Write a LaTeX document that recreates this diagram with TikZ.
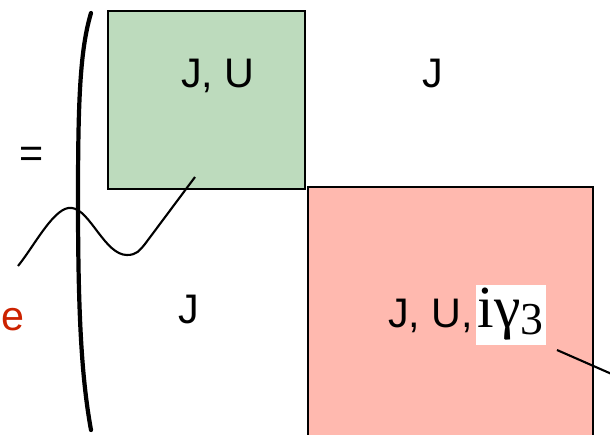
\documentclass[tikz,border=0pt]{standalone}
\usepackage{fontspec}
\setmainfont{Liberation Sans}
\newfontfamily\serifgr{Liberation Serif}
\usetikzlibrary{positioning}
\definecolor{cgreen}{HTML}{BDDBBD}
\definecolor{cpink}{HTML}{FFB9AF}
\definecolor{cred}{HTML}{CC2200}
\tikzset{
  every picture/.style={line width=1pt},
  block/.style={draw=black, fill=#1, line width=1.1pt, anchor=north west, inner sep=0pt},
  lbl/.style={font=\fontsize{23.5}{28}\selectfont, inner sep=0pt},
  gamma/.style={fill=white, font=\serifgr\fontsize{34}{40}\selectfont, text height=0.76cm, text depth=0.28cm, inner xsep=0.04cm, inner ysep=0.08cm},
  brace/.style={line width=2.4pt, line cap=round},
  wave/.style={line width=1.2pt},
}
\begin{document}
\begin{tikzpicture}[x=0.02cm, y=-0.02cm]
  \clip (0,0) rectangle (610,434);
  % the two diagonal blocks
  \node[block=cgreen, minimum width=3.94cm, minimum height=3.56cm] (upper) at (107,10) {};
  \node[block=cpink, minimum width=5.7cm, minimum height=5.4cm] (lower) at (307,186) {};
  % entries
  \node[lbl, anchor=base] (ju) at (218,87) {J, U};
  \node[lbl, anchor=base] (jright) at (433,87) {J};
  \node[lbl, anchor=base] (jleft) at (189,323) {J};
  \node[lbl, anchor=base east] (juc) at (474,327) {J, U,};
  \node[gamma, anchor=base west] (ig) at (475,327) {iγ\raisebox{-0.12em}{\fontsize{26}{30}\selectfont 3}};
  \node[lbl] (eq) at (32,157) {=};
  \node[lbl, anchor=base, text=cred] (e) at (13,330) {e};
  % bracket and the two lines
  \coordinate (wavestart) at (18,266);
  \coordinate (waveend) at (195,177);
  \coordinate (tail) at (557,350);
  \coordinate (tailend) at (614,375);
  \draw[brace] (91,13) .. controls (80,50) and (78,100) .. (78,200) .. controls (78,320) and (82,380) .. (91,430);
  \draw[wave] (wavestart) .. controls (35,245) and (55,205) .. (72,208) .. controls (90,210) and (105,255) .. (127,255) .. controls (137,255) and (140,250) .. (145,244) -- (waveend);
  \draw[wave] (tail) -- (tailend);
\end{tikzpicture}
\end{document}
